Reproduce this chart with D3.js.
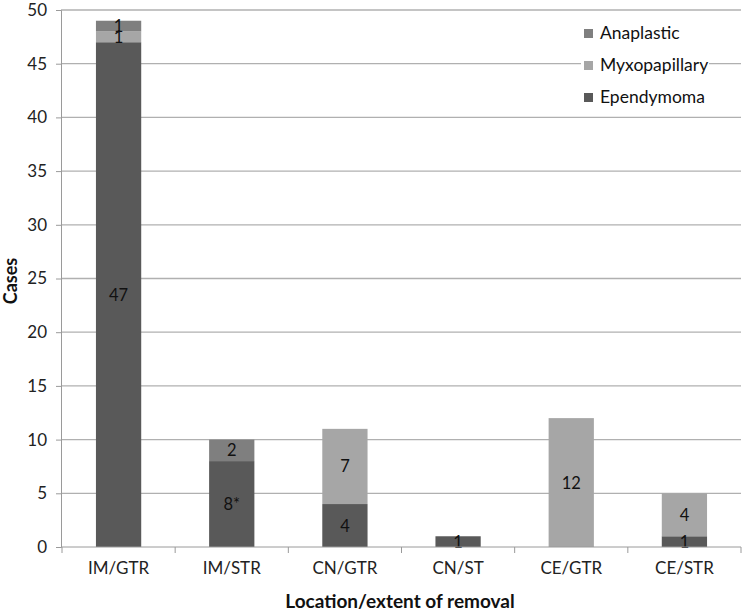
<!DOCTYPE html>
<html><head><meta charset="utf-8">
<script src="https://cdn.jsdelivr.net/npm/d3@7"></script>
<style>body{margin:0;background:#fff}svg{display:block}</style>
</head><body>
<script>
const categories = ["IM/GTR","IM/STR","CN/GTR","CN/ST","CE/GTR","CE/STR"];
const seriesNames = ["Ependymoma","Myxopapillary","Anaplastic"];
const ependymoma = [47, 8, 4, 1, 0, 1];
const myxopapillary = [1, 0, 7, 0, 12, 4];
const anaplastic = [1, 2, 0, 0, 0, 0];
const ependymomaLabels = ["47","8*","4","1","","1"];
const myxopapillaryLabels = ["1","","7","","12","4"];
const anaplasticLabels = ["1","2","","","",""];
const yTicks = [0,5,10,15,20,25,30,35,40,45,50];
const colors = {Ependymoma:"#595959", Myxopapillary:"#a6a6a6", Anaplastic:"#7f7f7f"};

const W=744,H=615;
const font = "Lato, 'Open Sans', sans-serif";
const svg = d3.select("body").append("svg").attr("width",W).attr("height",H);
const x = d3.scaleBand().domain(categories).range([62,741]).paddingInner(0.6).paddingOuter(0.3);
const y = d3.scaleLinear().domain([0,50]).range([547,10]);

// gridlines
svg.append("g").selectAll("line").data(yTicks.filter(d=>d>0)).join("line")
  .attr("x1",61).attr("x2",741).attr("y1",d=>y(d)).attr("y2",d=>y(d))
  .attr("stroke","#b0b0b0").attr("stroke-width",1.3);

const rows = categories.map((c,i)=>({cat:c, Ependymoma:ependymoma[i], Myxopapillary:myxopapillary[i], Anaplastic:anaplastic[i]}));
const labelMap = {Ependymoma:ependymomaLabels, Myxopapillary:myxopapillaryLabels, Anaplastic:anaplasticLabels};
const stack = d3.stack().keys(seriesNames)(rows);

const g = svg.append("g");
stack.forEach(s=>{
  g.selectAll(null).data(s).join("rect")
   .attr("x",d=>x(d.data.cat)).attr("width",x.bandwidth())
   .attr("y",d=>y(d[1])).attr("height",d=>y(d[0])-y(d[1]))
   .attr("fill",colors[s.key]);
});
stack.forEach(s=>{
  g.selectAll(null).data(s.filter((d,i)=>labelMap[s.key][i]!=="" && d[1]>d[0])).join("text")
   .attr("x",d=>x(d.data.cat)+x.bandwidth()/2)
   .attr("y",d=>y((d[0]+d[1])/2)+6)
   .attr("text-anchor","middle").attr("font-family",font).attr("font-size",16.5).attr("fill","#111")
   .text(d=>labelMap[s.key][categories.indexOf(d.data.cat)]);
});

// axes
const axisColor="#9a9a9a";
const ya = svg.append("g").attr("transform","translate(61,0)")
  .call(d3.axisLeft(y).tickValues(yTicks).tickSize(5).tickPadding(9));
ya.select(".domain").attr("stroke",axisColor);
ya.selectAll(".tick line").attr("stroke",axisColor);
ya.selectAll("text").attr("font-family",font).attr("font-size",17).attr("fill","#222");

const xa = svg.append("g").attr("transform","translate(0,547)")
  .call(d3.axisBottom(x).tickSize(0).tickPadding(15));
xa.select(".domain").attr("stroke",axisColor).attr("d","M61,0H741");
xa.selectAll("text").attr("font-family",font).attr("font-size",17).attr("fill","#222");
const bounds = categories.map(c=>x(c)-x.step()*x.paddingInner()/2).concat([741]);
svg.append("g").selectAll("line").data(bounds).join("line")
  .attr("x1",d=>d).attr("x2",d=>d).attr("y1",547).attr("y2",553).attr("stroke",axisColor);

svg.append("text").attr("x",400).attr("y",608).attr("text-anchor","middle")
  .attr("font-family",font).attr("font-size",19).attr("font-weight","bold").attr("fill","#111")
  .text("Location/extent of removal");
svg.append("text").attr("transform","translate(17,281) rotate(-90)").attr("text-anchor","middle")
  .attr("font-family",font).attr("font-size",18).attr("font-weight","bold").attr("fill","#111")
  .text("Cases");

// legend
const legendOrder = ["Anaplastic","Myxopapillary","Ependymoma"];
const lg = svg.append("g");
legendOrder.forEach((k,i)=>{
  const cy = 33 + i*32;
  lg.append("rect").attr("x",581).attr("y",cy-10).attr("width",128).attr("height",20).attr("fill","#fff");
  lg.append("rect").attr("x",584).attr("y",cy-4).attr("width",9).attr("height",9).attr("fill",colors[k]);
  lg.append("text").attr("x",600).attr("y",cy+6).attr("font-family",font).attr("font-size",17.5).attr("fill","#111").text(k);
});
</script>
</body></html>
